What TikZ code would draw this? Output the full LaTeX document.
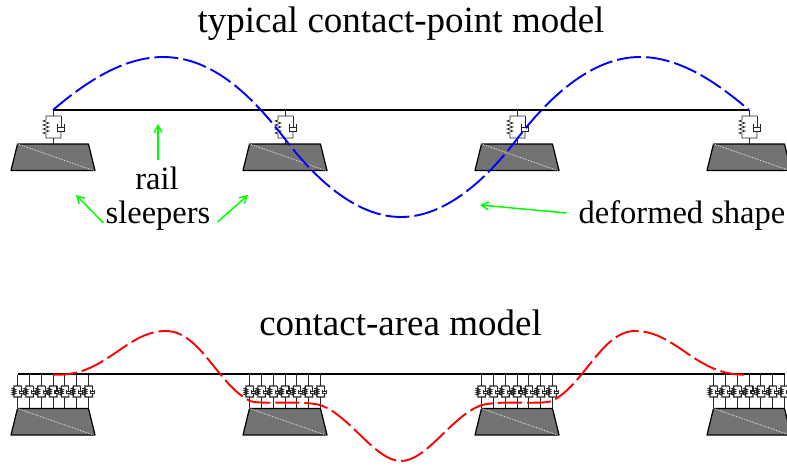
\documentclass[tikz,border=0pt]{standalone}
\usepackage{fontspec}
\setmainfont{Liberation Serif}
\usepackage{tikz}
\usetikzlibrary{arrows.meta}
\tikzset{
  railline/.style={line width=1.3pt, draw=black},
  thinline/.style={line width=0.75pt, draw=black!85},
  blockfill/.style={fill=black!55, draw=black, line width=1.2pt, line join=round},
  blockdiag/.style={line width=0.7pt, draw=white, densely dotted},
  pointshape/.style={line width=1.9pt, draw=blue, dash pattern=on 24pt off 5pt},
  areashape/.style={line width=1.9pt, draw=red, dash pattern=on 24pt off 5pt},
  titlelabel/.style={font=\fontsize{37}{37}\selectfont, inner sep=0pt},
  partlabel/.style={font=\fontsize{32.5}{33}\selectfont, inner sep=0pt},
  pointer/.style={line width=1.5pt, draw=green, -{Straight Barb[length=7pt,width=8pt]}},
  pics/springbox/.style={code={
    \draw[thinline] (8,-11) -- (-7,-11) -- (-7,-7) -- (-10,-6) -- (-4,-4) -- (-10,-2) -- (-4,0) -- (-10,2) -- (-4,4) -- (-10,6) -- (-7,7) -- (-7,11) -- (8,11) -- (8,4);
    \draw[thinline] (8,-11) -- (8,0);
    \draw[thinline] (4.5,0) -- (11,0);
    \draw[thinline] (4,-3) -- (4,4) -- (11.5,4) -- (11.5,-3);
  }},
  pics/sleeperblock/.style={code={
    \draw[blockfill] (-35.5,0) -- (35.5,0) -- (42,26.5) -- (-42,26.5) -- cycle;
    \draw[blockdiag] (-35.5,0) -- (40.5,26.5);
  }},
  pics/pointsupport/.style={code={
    \draw[thinline] (0,-34) -- (0,-28);
    \draw[thinline] (0,-6) -- (0,0);
    \pic at (0,-17) {springbox};
    \pic at (0,0) {sleeperblock};
  }},
  pics/arealeg/.style={code={
    \draw[thinline] (0,-17) -- (0,-5.5);
    \draw[thinline] (0,5.5) -- (0,17);
    \pic[scale=0.5, thinline/.append style={line width=1.1pt}] at (0,0) {springbox};
  }},
  pics/areasupport/.style={code={
    \pic at (-35.5,-17) {arealeg};
    \pic at (-23.7,-17) {arealeg};
    \pic at (-11.8,-17) {arealeg};
    \pic at (0,-17) {arealeg};
    \pic at (11.8,-17) {arealeg};
    \pic at (23.7,-17) {arealeg};
    \pic at (35.5,-17) {arealeg};
    \pic at (0,0) {sleeperblock};
  }},
}
\begin{document}
\begin{tikzpicture}[x=1pt, y=-1pt]
\useasboundingbox (0,0) rectangle (787,466);
\clip (0,0) rectangle (787,466);
% upper model
\node[titlelabel] (pointtitle) at (401,23.5) {typical contact-point model};
\coordinate (railstart) at (53,110);
\coordinate (railend) at (749,110);
\draw[railline] (railstart) -- (railend);
\pic at (53,144) {pointsupport};
\pic at (285,144) {pointsupport};
\pic at (517,144) {pointsupport};
\pic at (749,144) {pointsupport};
\draw[pointshape] (railstart) .. controls (88,80) and (125,57) .. (163,57)
  .. controls (215,57) and (255,100) .. (285,139)
  .. controls (320,185) and (360,217) .. (401,217)
  .. controls (442,217) and (482,185) .. (517,139)
  .. controls (547,100) and (590,57) .. (640,57)
  .. controls (678,57) and (714,80) .. (railend);
% labels
\node[partlabel] (raillabel) at (157,178) {rail};
\node[partlabel] (sleeperlabel) at (158,216) {sleepers};
\node[partlabel] (shapelabel) at (682,216) {deformed shape};
\coordinate (railtip) at (158,124);
\coordinate (sleepertipa) at (76,195);
\coordinate (sleepertipb) at (248,195);
\coordinate (shapetip) at (480,205);
\draw[pointer] (raillabel.north) ++(1,-6) -- (railtip);
\draw[pointer] (sleeperlabel.west) ++(-2,7) -- (sleepertipa);
\draw[pointer] (sleeperlabel.east) ++(7,6) -- (sleepertipb);
\draw[pointer] (shapelabel.west) ++(-12,-3) -- (shapetip);
% lower model
\node[titlelabel] (areatitle) at (400.5,322.5) {contact-area model};
\coordinate (areastart) at (17.5,374);
\coordinate (areaend) at (785,374);
\draw[railline] (areastart) -- (areaend);
\pic at (53,408.5) {areasupport};
\pic at (285,408.5) {areasupport};
\pic at (517,408.5) {areasupport};
\pic at (749,408.5) {areasupport};
\draw[areashape] (53,374.5) .. controls (105,378) and (125,331) .. (166,331)
  .. controls (200,331) and (218,385) .. (250,401)
  .. controls (262,405) and (300,400) .. (320,405)
  .. controls (350,415) and (375,461) .. (401,461)
  .. controls (427,461) and (452,415) .. (482,405)
  .. controls (502,400) and (540,405) .. (552,401)
  .. controls (584,385) and (602,331) .. (635,331)
  .. controls (677,331) and (697,378) .. (749,374.5);
\end{tikzpicture}
\end{document}
